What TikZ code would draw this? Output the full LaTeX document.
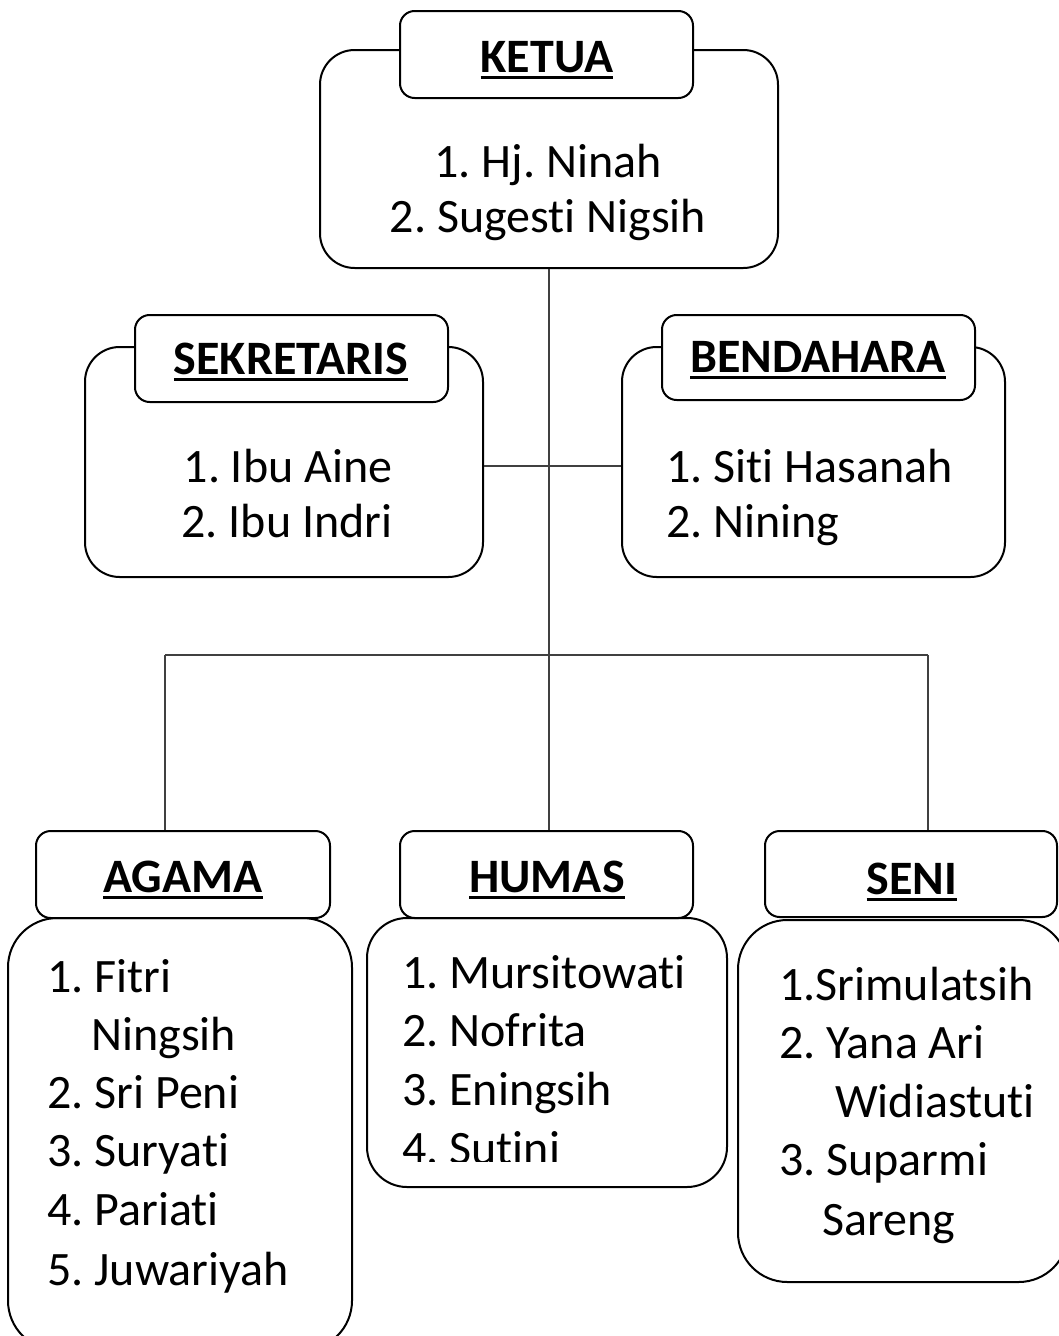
\documentclass[tikz,border=0pt]{standalone}
\usepackage{fontspec}
\setmainfont{Carlito}[Ligatures={NoCommon}]
\usetikzlibrary{fit}
\newcommand\headul[1]{\setbox0\hbox{#1}\rlap{\rule[-5.3pt]{\wd0}{2.3pt}}\box0}
\begin{document}
\frenchspacing
\begin{tikzpicture}[x=0.75pt,y=-0.75pt,
  bigbox/.style={draw, line width=1.5pt, rounded corners=#1, fill=white, inner sep=0pt},
  titlebox/.style={draw, line width=1.5pt, rounded corners=11pt, fill=white, inner sep=0pt},
  conn/.style={draw=black!75, line width=0.9pt},
  item/.style={font=\fontsize{36}{43}\selectfont, inner sep=0pt, anchor=base west},
  citem/.style={font=\fontsize{36}{43}\selectfont, inner sep=0pt, anchor=base},
  head/.style={font=\fontsize{36}{43}\selectfont\bfseries, inner sep=0pt, anchor=base}]
\path[fill=white, use as bounding box] (0,0) rectangle (1058,1336);

% connector junctions
\coordinate (jL) at (165,655);
\coordinate (jR) at (928,655);

% boxes
\node[bigbox=26pt, fit={(320,50) (778,268)}] (ketua) {};
\node[titlebox, fit={(400,11) (693,98)}] (ketuaT) {};
\node[bigbox=26pt, fit={(85,347) (483,577)}] (sek) {};
\node[titlebox, fit={(135,315) (448,402)}] (sekT) {};
\node[bigbox=26pt, fit={(622,347) (1005,577)}] (ben) {};
\node[titlebox, fit={(662,315) (975,400)}] (benT) {};
\node[bigbox=37pt, fit={(8,918) (352,1350)}] (agama) {};
\node[titlebox, fit={(36,831) (330,918)}] (agamaT) {};
\node[bigbox=30pt, fit={(367,918) (727,1187)}] (humas) {};
\node[titlebox, fit={(400,831) (693,918)}] (humasT) {};
\node[bigbox=37pt, fit={(738,920) (1068,1282)}] (seni) {};
\node[titlebox, fit={(765,831) (1057,917)}] (seniT) {};

% connectors
\draw[conn] (ketua.south) -- (ketua.south |- humasT.north);
\draw[conn] (sek.east |- 0,466) -- (ben.west |- 0,466);
\draw[conn] (jL) -- (jR);
\draw[conn] (jL) -- (jL |- agamaT.north);
\draw[conn] (jR) -- (jR |- seniT.north);

% headings
\node[head] (hKetua) at (547,72) {\headul{KETUA}};
\node[head] (hSek) at (291,374) {\headul{SEKRETARIS}};
\node[head] (hBen) at (818,372) {\headul{BENDAHARA}};
\node[head] (hAgama) at (183,892) {\headul{AGAMA}};
\node[head] (hHumas) at (547,892) {\headul{HUMAS}};
\node[head] (hSeni) at (912,894) {\headul{SENI}};

% KETUA members
\node[citem] (k1) at (548,177) {1. Hj. Ninah};
\node[citem] (k2) at (548,232) {2. Sugesti Nigsih};
% SEKRETARIS members
\node[citem] (s1) at (288,482) {1. Ibu Aine};
\node[citem] (s2) at (287,537) {2. Ibu Indri};
% BENDAHARA members
\node[item] (b1) at (666,482) {1. Siti Hasanah};
\node[item] (b2) at (666,537) {2. Nining};
% AGAMA members
\node[item] (a1) at (47,992) {1. Fitri};
\node[item] (a1b) at (91,1050) {Ningsih};
\node[item] (a2) at (47,1108) {2. Sri Peni};
\node[item] (a3) at (47,1166) {3. Suryati};
\node[item] (a4) at (47,1225) {4. Pariati};
\node[item] (a5) at (47,1285) {5. Juwariyah};
% HUMAS members
\node[item] (h1) at (402,988) {1. Mursitowati};
\node[item] (h2) at (402,1046) {2. Nofrita};
\node[item] (h3) at (402,1105) {3. Eningsih};
\begin{scope}
\clip (367,918) rectangle (727,1161);
\node[item] (h4) at (402,1164) {4. Sutini};
\end{scope}
% SENI members
\node[item] (n1) at (779,1000) {1.Srimulatsih};
\node[item] (n2) at (779,1058) {2. Yana Ari};
\node[item] (n2b) at (835,1117) {Widiastuti};
\node[item] (n3) at (779,1175) {3. Suparmi};
\node[item] (n3b) at (822,1235) {Sareng};
\end{tikzpicture}
\end{document}
